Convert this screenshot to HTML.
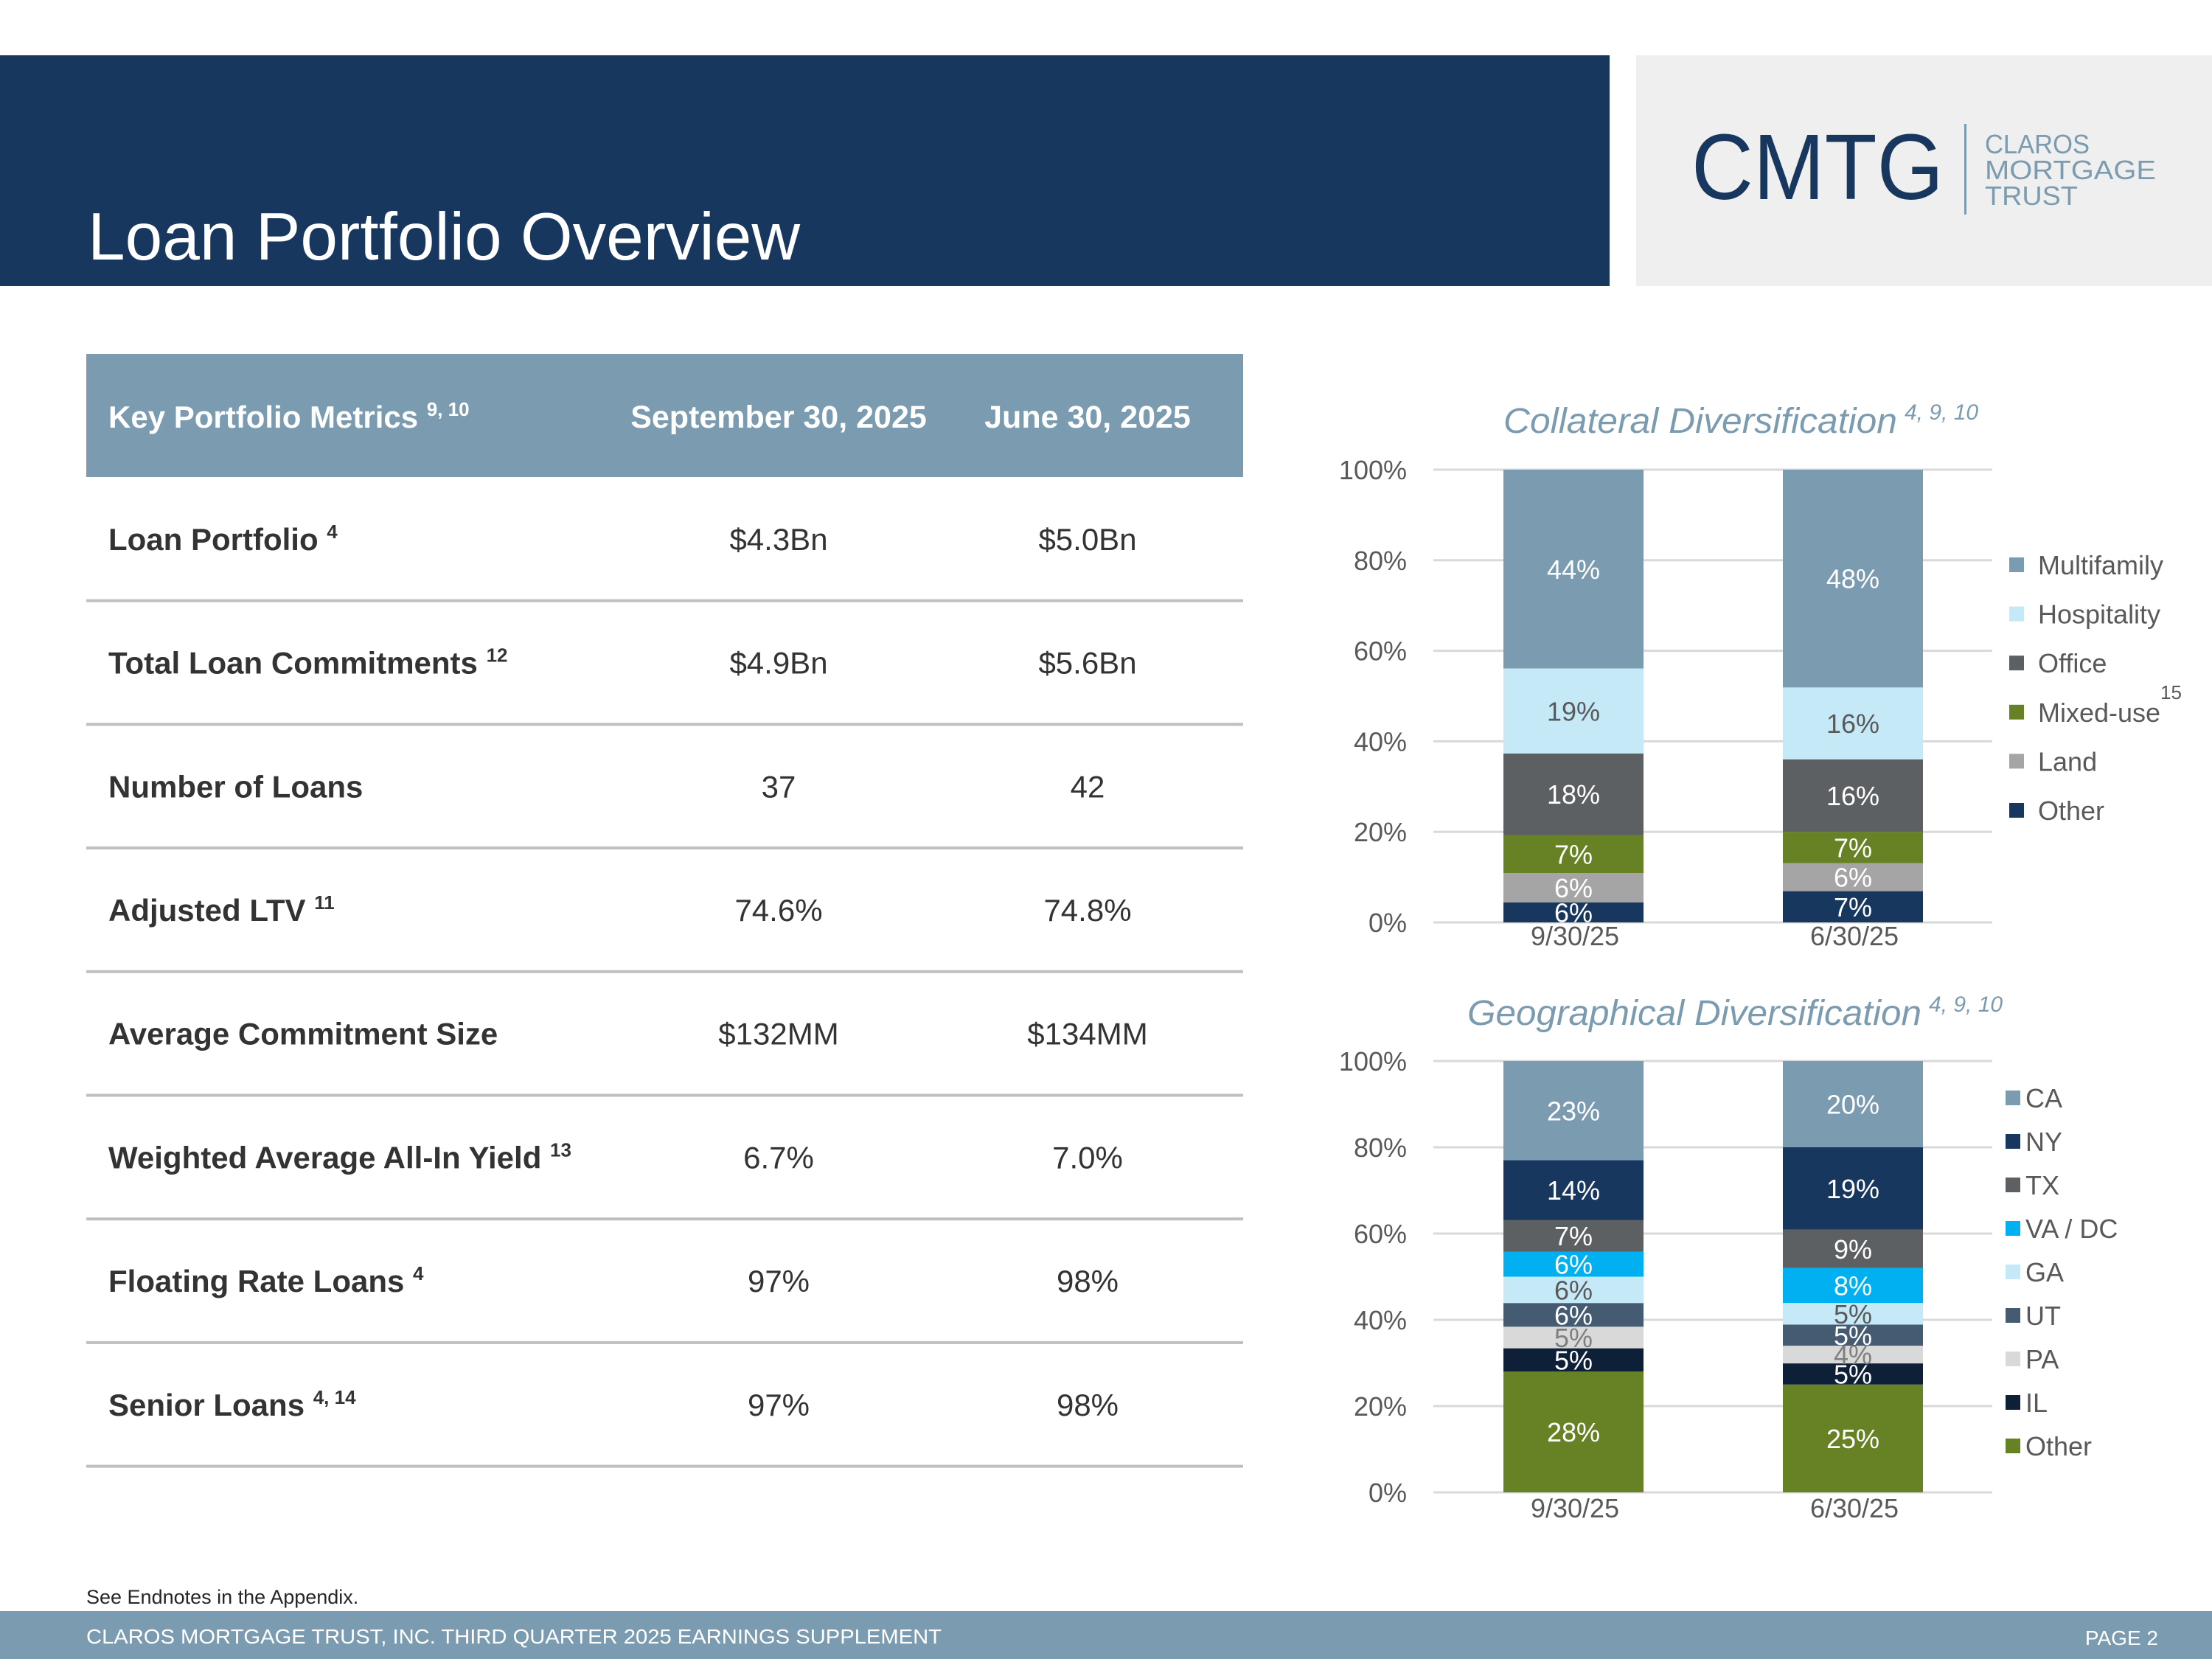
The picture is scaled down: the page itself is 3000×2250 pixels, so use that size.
<!DOCTYPE html>
<html><head><meta charset="utf-8"><style>
html,body{margin:0;padding:0;background:#fff}
svg{display:block;font-family:"Liberation Sans",Arial,sans-serif}
</style></head><body>
<svg id="page" width="3000" height="2250" viewBox="0 0 3000 2250" xmlns="http://www.w3.org/2000/svg">
<rect x="0" y="0" width="3000" height="2250" fill="#fff"/>
<g>
<rect x="0" y="75" width="2183" height="313" fill="#17375e"/>
<text x="119" y="352" font-size="91" fill="#fff">Loan Portfolio Overview</text>
</g>
<g>
<rect x="2219" y="75" width="781" height="313" fill="#efefef"/>
<text x="2294" y="270" font-size="126" fill="#17375e" textLength="342" lengthAdjust="spacingAndGlyphs">CMTG</text>
<rect x="2664" y="168" width="3" height="123" fill="#7b9bb0"/>
<text x="2692" y="208" font-size="36" fill="#7b9bb0" textLength="142" lengthAdjust="spacingAndGlyphs">CLAROS</text>
<text x="2692" y="243" font-size="36" fill="#7b9bb0" textLength="232" lengthAdjust="spacingAndGlyphs">MORTGAGE</text>
<text x="2692" y="278" font-size="36" fill="#7b9bb0" textLength="126" lengthAdjust="spacingAndGlyphs">TRUST</text>
</g>
<g id="table">
<rect x="117" y="480" width="1569" height="167" fill="#7b9bb0"/>
<text x="147" y="580" font-size="42" font-weight="bold" fill="#fff">Key Portfolio Metrics <tspan font-size="26" dy="-16">9, 10</tspan></text>
<text x="1056" y="580" font-size="43" font-weight="bold" fill="#fff" text-anchor="middle">September 30, 2025</text>
<text x="1475" y="580" font-size="43" font-weight="bold" fill="#fff" text-anchor="middle">June 30, 2025</text>
</g>
<g id="chart1"></g>
<g id="chart2"></g>
<text x="117" y="2175" font-size="27" fill="#262626">See Endnotes in the Appendix.</text>
<g>
<rect x="0" y="2185" width="3000" height="65" fill="#7b9bb0"/>
<text x="117" y="2229" font-size="28" fill="#fff" textLength="1160" lengthAdjust="spacingAndGlyphs">CLAROS MORTGAGE TRUST, INC. THIRD QUARTER 2025 EARNINGS SUPPLEMENT</text>
<text x="2927" y="2231" font-size="28" fill="#fff" text-anchor="end">PAGE 2</text>
</g>
</svg>
<script>
const NS="http://www.w3.org/2000/svg";
// ---- table data ----
const rowLabels=["Loan Portfolio","Total Loan Commitments","Number of Loans","Adjusted LTV","Average Commitment Size","Weighted Average All-In Yield","Floating Rate Loans","Senior Loans"];
const rowSups=["4","12","","11","","13","4","4, 14"];
const sepValues=["$4.3Bn","$4.9Bn","37","74.6%","$132MM","6.7%","97%","97%"];
const junValues=["$5.0Bn","$5.6Bn","42","74.8%","$134MM","7.0%","98%","98%"];
// ---- chart 1 data ----
const c1Categories=["9/30/25","6/30/25"];
const c1Series=["Other","Land","Mixed-use","Office","Hospitality","Multifamily"];
const c1Values=[[4.4,6.9],[6.5,6.2],[8.4,6.9],[18.0,16.0],[18.8,15.9],[43.9,48.1]];
const c1Labels=[["6%","7%"],["6%","6%"],["7%","7%"],["18%","16%"],["19%","16%"],["44%","48%"]];
// ---- chart 2 data ----
const c2Categories=["9/30/25","6/30/25"];
const c2Series=["Other","IL","PA","UT","GA","VA / DC","TX","NY","CA"];
const c2Values=[[28.0,25.0],[5.4,4.9],[5.0,4.1],[5.5,4.9],[6.1,5.0],[5.8,8.1],[7.3,8.9],[13.9,19.1],[23.0,20.0]];
const c2Labels=[["28%","25%"],["5%","5%"],["5%","4%"],["6%","5%"],["6%","5%"],["6%","8%"],["7%","9%"],["14%","19%"],["23%","20%"]];
const yTicks=["0%","20%","40%","60%","80%","100%"];

function mk(parent,tag,attrs,txt){const e=document.createElementNS(NS,tag);for(const k in attrs)e.setAttribute(k,attrs[k]);if(txt!==undefined)e.textContent=txt;parent.appendChild(e);return e;}

const table=document.getElementById('table');
const rowTop=647,rowH=167.7;
rowLabels.forEach((lab,i)=>{
  const cy=rowTop+rowH*(i+0.5);
  const t=mk(table,'text',{x:147,y:cy+15,'font-size':42,'font-weight':'bold',fill:'#333'},lab+' ');
  
  
  if(rowSups[i]){mk(t,'tspan',{'font-size':26,dy:-16},rowSups[i]);}
  const a=mk(table,'text',{x:1056,y:cy+15,'font-size':42,fill:'#333','text-anchor':'middle'},sepValues[i]);
  
  
  const b=mk(table,'text',{x:1475,y:cy+15,'font-size':42,fill:'#333','text-anchor':'middle'},junValues[i]);
  
  
  const l=mk(table,'rect',{x:117,y:rowTop+rowH*(i+1)-2,width:1569,height:4,fill:'#bfbfbf'});
  
  
});

function drawChart(gid,cfg){
  const g=document.getElementById(gid);
  const yScale=v=>cfg.y0-(v/100)*(cfg.y0-cfg.y100);
  const barX=[2039,2418],barW=190;
  const tt=mk(g,'text',{x:cfg.titleX,y:cfg.titleY,'font-size':48,'font-style':'italic',fill:'#7b9bb0',textLength:cfg.titleW,lengthAdjust:'spacingAndGlyphs'},cfg.title);
  
  
  const ts=mk(g,'text',{x:cfg.titleX+cfg.titleW+10,y:cfg.titleY-18,'font-size':30,'font-style':'italic',fill:'#7b9bb0'},'4, 9, 10');
  
  
  yTicks.forEach((lab,i)=>{
    const y=yScale(i*20);
    const gl=mk(g,'rect',{x:1944,y:y-1.5,width:758,height:3,fill:'#d9d9d9'});
    
    
    const tl=mk(g,'text',{x:1908,y:y+13,'font-size':36,fill:'#595959','text-anchor':'end'},lab);
    
    
  });
  cfg.categories.forEach((cat,ci)=>{
    let acc=0;
    cfg.series.forEach((s,si)=>{
      const v=cfg.values[si][ci];
      const yt=yScale(acc+v),yb=yScale(acc);
      const r=mk(g,'rect',{x:barX[ci],y:yt,width:barW,height:yb-yt,fill:cfg.colors[si]});
      
      
      const lt=mk(g,'text',{x:barX[ci]+barW/2,y:(yt+yb)/2+13,'font-size':36,fill:cfg.labelColors[si],'text-anchor':'middle'},cfg.labels[si][ci]);
      
      
      acc+=v;
    });
    const cl=mk(g,'text',{x:barX[ci]+barW/2+2,y:cfg.catY,'font-size':36,fill:'#595959','text-anchor':'middle'},cat);
    
    
  });
  const n=cfg.series.length;
  for(let k=0;k<n;k++){
    const si=n-1-k;
    const y=cfg.legY0+k*cfg.legStep;
    const sq=mk(g,'rect',{x:cfg.legSqX,y:y-10,width:20,height:20,fill:cfg.colors[si]});
    
    
    const lt=mk(g,'text',{x:cfg.legTxX,y:y+13,'font-size':36,fill:'#595959'},cfg.series[si]);
    
    
  }
}
drawChart('chart1',{title:'Collateral Diversification',titleX:2039,titleY:587,titleW:534,y0:1251,y100:637,catY:1282,
  categories:c1Categories,series:c1Series,values:c1Values,labels:c1Labels,
  colors:['#17375e','#a5a5a5','#668224','#5d6062','#c6e9f8','#7b9bb0'],
  labelColors:['#fff','#fff','#fff','#fff','#595959','#fff'],
  legY0:766,legStep:66.6,legSqX:2725,legTxX:2764});
drawChart('chart2',{title:'Geographical Diversification',titleX:1990,titleY:1390,titleW:616,y0:2024,y100:1439,catY:2058,
  categories:c2Categories,series:c2Series,values:c2Values,labels:c2Labels,
  colors:['#668224','#0e1f38','#d9d9d9','#445b72','#c6e9f8','#00b0f0','#5d6062','#17375e','#7b9bb0'],
  labelColors:['#fff','#fff','#7f7f7f','#fff','#595959','#fff','#fff','#fff','#fff'],
  legY0:1489,legStep:59,legSqX:2720,legTxX:2747});
const sup=mk(document.getElementById('chart1'),'text',{x:2930,y:948,'font-size':26,fill:'#595959'},'15');


</script>
</body></html>
